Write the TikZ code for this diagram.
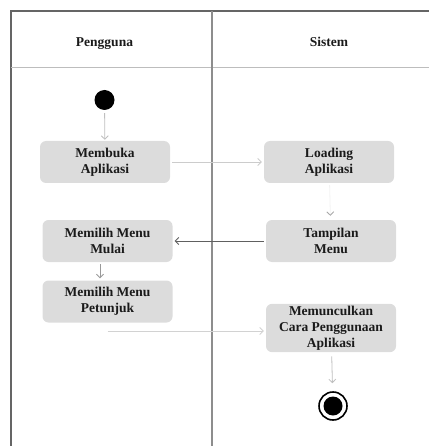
\documentclass[tikz,border=0pt]{standalone}
\usepackage{fontspec}
\setmainfont{Liberation Serif}
\usetikzlibrary{arrows.meta}

\definecolor{boxfill}{HTML}{DCDCDC}
\definecolor{laneline}{HTML}{707070}
\definecolor{headline}{HTML}{BDBDBD}
\definecolor{inktext}{HTML}{1A1A1A}

\tikzset{
  actbox/.style={fill=boxfill, rounded corners=6pt, minimum width=130pt,
    minimum height=42pt, align=center, inner sep=2pt, text=inktext,
    font=\fontsize{13.5}{16}\selectfont\bfseries},
  lanelabel/.style={anchor=base, text=inktext, font=\fontsize{13.5}{16}\selectfont\bfseries},
  flow/.style={draw=#1, line width=0.8pt,
    -{Straight Barb[length=3.5pt,width=7pt,line width=0.8pt]}},
  flow/.default={gray!70},
}

\begin{document}
\begin{tikzpicture}[x=1pt,y=-1pt]
  \useasboundingbox (0,0) rectangle (429,446);

  % swimlane frame
  \draw[laneline!90!black, line width=2pt] (11,446) -- (11,11) -- (429,11);
  \draw[headline, line width=1pt] (11,68) -- (429,68);
  \draw[laneline!80, line width=1.5pt] (212,11) -- (212,446);

  % lane headings
  \node[lanelabel] (hUser) at (104.5,46.5) {Pengguna};
  \node[lanelabel] (hSys)  at (329,46.5)   {Sistem};

  % initial and final states
  \node[circle, fill=black, minimum size=20pt, inner sep=0pt] (start) at (104.5,100) {};
  \node[circle, draw=black, line width=1.6pt, minimum size=28pt, inner sep=0pt] (final) at (333,406) {};
  \node[circle, fill=black, minimum size=19pt, inner sep=0pt] at (final) {};

  % activities
  \node[actbox] (buka)    at (105,162)   {Membuka\\Aplikasi};
  \node[actbox] (loading) at (329,162)   {Loading\\Aplikasi};
  \node[actbox] (mulai)   at (107.5,241) {Memilih Menu\\Mulai};
  \node[actbox] (tampil)  at (331,241)   {Tampilan\\Menu};
  \node[actbox] (tunjuk)  at (107.5,301.5) {Memilih Menu\\Petunjuk};
  \node[actbox, minimum height=48pt] (cara) at (331,328) {Memunculkan\\Cara Penggunaan\\Aplikasi};

  % transitions
  \draw[flow=gray!50, shorten <=3pt, shorten >=1pt] (start) -- (buka);
  \draw[flow=gray!40, shorten <=2pt, shorten >=2pt] (buka) -- (loading);
  \draw[draw=gray!10, line width=0.8pt, shorten <=2pt, shorten >=4pt,
    -{Straight Barb[length=3.5pt,width=7pt,line width=0.8pt,color=gray!70]}]
    (loading) -- (tampil);
  \draw[flow=gray!75!black, line width=1pt, shorten <=2pt, shorten >=2pt] (tampil) -- (mulai);
  \draw[flow=gray!80, shorten <=2pt, shorten >=2pt]
    ([xshift=-7.5pt]mulai.south) -- ([xshift=-7.5pt]tunjuk.north);
  \draw[flow=gray!35, shorten <=0pt, shorten >=2pt]
    ([yshift=-3pt]tunjuk.south |- cara.west) -- ([yshift=-3pt]cara.west);
  \draw[flow=gray!50, shorten <=4pt, shorten >=8pt] (cara) -- (final);
\end{tikzpicture}
\end{document}
